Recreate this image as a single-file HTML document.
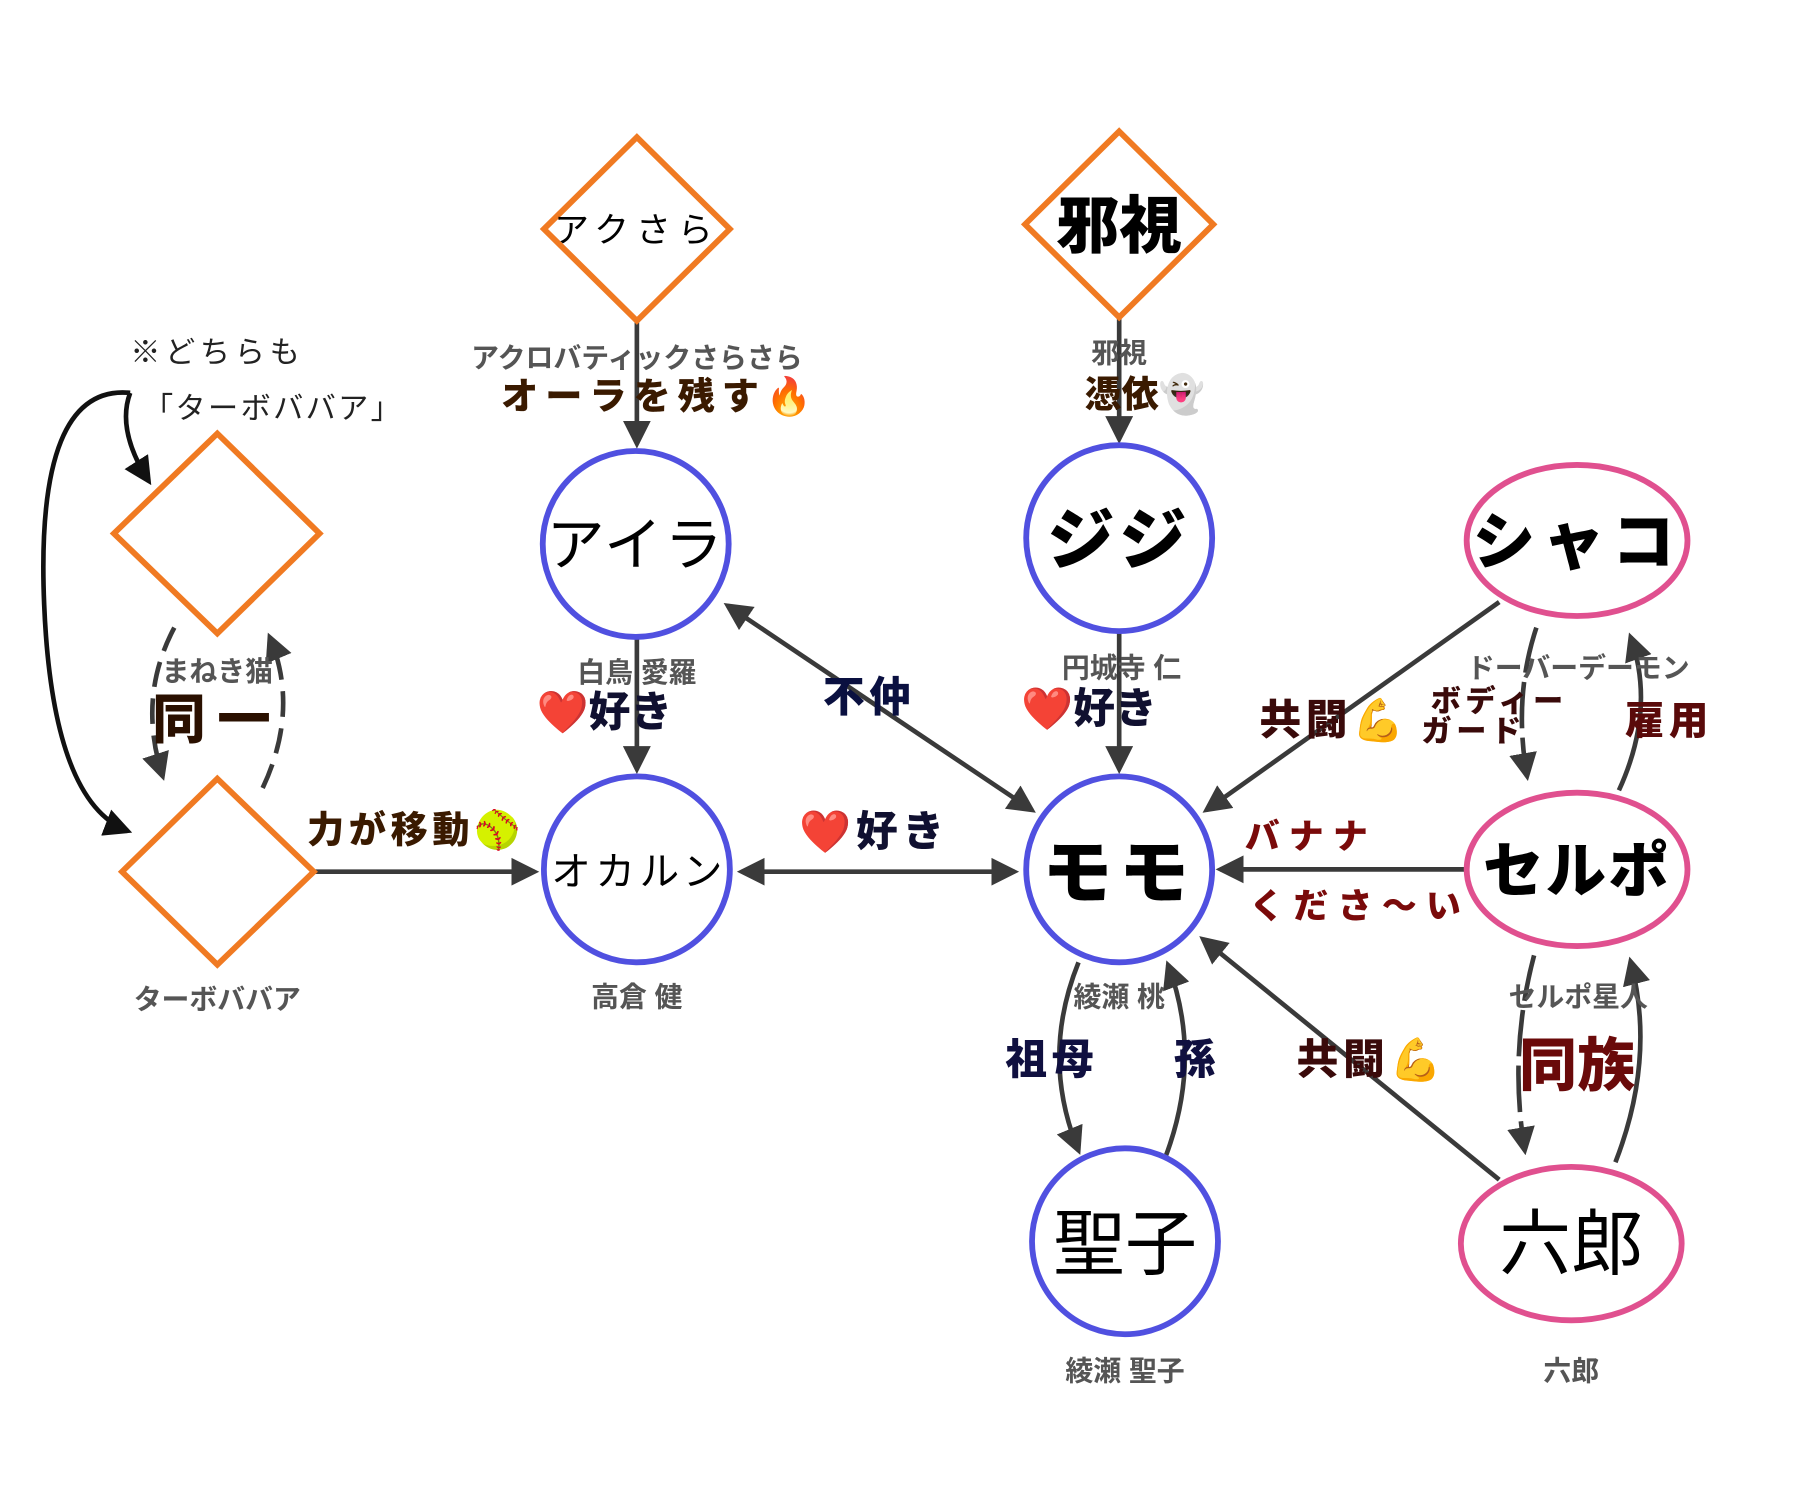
<!DOCTYPE html>
<html><head><meta charset="utf-8"><style>
html,body{margin:0;padding:0;background:#fff;}
svg{display:block;}
text{font-family:"Liberation Sans","Noto Sans CJK JP",sans-serif;}
.g{fill:#555;font-size:24px;font-weight:bold;}
.b{font-weight:900;}
</style></head><body>
<svg width="1813" height="1497" viewBox="0 0 1560 1288" xmlns="http://www.w3.org/2000/svg">
<defs>
<marker id="a" markerWidth="6" markerHeight="6" refX="5" refY="3" orient="auto" markerUnits="strokeWidth"><path d="M0,0 L6,3 L0,6 z" fill="#3a3a3a"/></marker>
<marker id="as" markerWidth="6" markerHeight="6" refX="5" refY="3" orient="auto-start-reverse" markerUnits="strokeWidth"><path d="M0,0 L6,3 L0,6 z" fill="#3a3a3a"/></marker>
<marker id="k" markerWidth="6" markerHeight="6" refX="5" refY="3" orient="auto" markerUnits="strokeWidth"><path d="M0,0 L6,3 L0,6 z" fill="#111"/></marker>
</defs>
<g stroke="#3a3a3a" stroke-width="4" fill="none">
<line x1="548" y1="276" x2="548" y2="382" marker-end="url(#a)"/>
<line x1="963" y1="273" x2="963" y2="378" marker-end="url(#a)"/>
<line x1="548" y1="550" x2="548" y2="662" marker-end="url(#a)"/>
<line x1="963" y1="545" x2="963" y2="662" marker-end="url(#a)"/>
<line x1="626" y1="521" x2="888" y2="697" marker-start="url(#as)" marker-end="url(#a)"/>
<line x1="638" y1="750" x2="873" y2="750" marker-start="url(#as)" marker-end="url(#a)"/>
<line x1="270" y1="750" x2="460" y2="750" marker-end="url(#a)"/>
<line x1="1290" y1="518" x2="1038" y2="697" marker-end="url(#a)"/>
<line x1="1260" y1="748" x2="1050" y2="748" marker-end="url(#a)"/>
<line x1="1290" y1="1015" x2="1035" y2="808" marker-end="url(#a)"/>
<path d="M928,828 Q895,910 928,990" marker-end="url(#a)"/>
<path d="M1003,995 Q1035,910 1005,830" marker-end="url(#a)"/>
<path d="M1322,540 Q1302,600 1314,668" stroke-dasharray="40 8" marker-end="url(#a)"/>
<path d="M1393,680 Q1425,610 1403,548" marker-end="url(#a)"/>
<path d="M1320,822 Q1298,905 1312,990" stroke-dasharray="40 8" marker-end="url(#a)"/>
<path d="M1390,1000 Q1425,910 1403,827" marker-end="url(#a)"/>
<path d="M150,540 Q118,600 140,668" stroke-dasharray="22 10" marker-end="url(#a)"/>
<path d="M226,678 Q258,610 232,548" stroke-dasharray="22 10" marker-end="url(#a)"/>
</g>
<g stroke="#111" stroke-width="4" fill="none">
<path d="M112,338 Q100,370 128,414" marker-end="url(#k)"/>
<path d="M112,338 Q30,330 38,520 Q45,690 110,715" marker-end="url(#k)"/>
</g>
<g fill="#fff" stroke="#f07a22" stroke-width="5">
<polygon points="548,118 628,197 548,276 468,197"/>
<polygon points="963,113 1044,193 963,273 882,193"/>
<polygon points="187,373 275,459 187,545 98,459"/>
<polygon points="187,670 270,750 187,830 105,750"/>
</g>
<g fill="#fff" stroke="#5050e0" stroke-width="5">
<circle cx="547" cy="468" r="80"/><circle cx="963" cy="463" r="80"/>
<circle cx="548" cy="748" r="80"/><circle cx="963" cy="748" r="80"/>
<circle cx="968" cy="1068" r="80"/>
</g>
<g fill="#fff" stroke="#e0508f" stroke-width="5">
<ellipse cx="1357" cy="465" rx="95" ry="65"/><ellipse cx="1357" cy="748" rx="95" ry="66"/><ellipse cx="1352" cy="1070" rx="95" ry="66"/>
</g>
<g text-anchor="middle" fill="#000">
<text x="548" y="208" font-size="30" letter-spacing="6">アクさら</text>
<text x="963" y="213" font-size="54" class="b">邪視</text>
<text x="547" y="486" font-size="50" letter-spacing="2">アイラ</text>
<text x="963" y="485" font-size="58" letter-spacing="4" class="b">ジジ</text>
<text x="550" y="762" font-size="34" letter-spacing="4">オカルン</text>
<text x="963" y="772" font-size="60" letter-spacing="6" class="b">モモ</text>
<text x="968" y="1092" font-size="62">聖子</text>
<text x="1357" y="485" font-size="54" letter-spacing="6" class="b">シャコ</text>
<text x="1357" y="767" font-size="52" letter-spacing="2" class="b">セルポ</text>
<text x="1352" y="1092" font-size="62">六郎</text>
</g>
<g text-anchor="middle">
<text class="g" x="548" y="316">アクロバティックさらさら</text>
<text x="568" y="352" font-size="32" class="b" fill="#3a1a00" letter-spacing="6">オーラを残す🔥</text>
<text class="g" x="963" y="312">邪視</text>
<text x="985" y="350" font-size="32" class="b" fill="#3a1a00">憑依👻</text>
<text class="g" x="548" y="587">白鳥 愛羅</text>
<text x="520" y="625" font-size="36" class="b" fill="#101030">❤️好き</text>
<text class="g" x="965" y="583">円城寺 仁</text>
<text x="937" y="622" font-size="36" class="b" fill="#101030">❤️好き</text>
<text x="748" y="612" font-size="36" class="b" fill="#0a1040" letter-spacing="4">不仲</text>
<text x="752" y="728" font-size="36" class="b" fill="#101030" letter-spacing="4">❤️好き</text>
<text x="358" y="725" font-size="32" class="b" fill="#3a1a00" letter-spacing="4">力が移動🥎</text>
<text class="g" x="187" y="586">まねき猫</text>
<text x="187" y="635" font-size="46" class="b" fill="#2a1000" letter-spacing="10">同一</text>
<text x="187" y="312" font-size="26" fill="#222" letter-spacing="4">※どちらも</text>
<text x="235" y="360" font-size="26" fill="#222" letter-spacing="2">「ターボババア」</text>
<text class="g" x="187" y="868">ターボババア</text>
<text class="g" x="548" y="866">高倉 健</text>
<text class="g" x="968" y="1188">綾瀬 聖子</text>
<text class="g" x="1352" y="1188">六郎</text>
<text class="g" x="963" y="866">綾瀬 桃</text>
<text x="905" y="924" font-size="36" class="b" fill="#101040" letter-spacing="4">祖母</text>
<text x="1028" y="924" font-size="36" class="b" fill="#101040">孫</text>
<text x="1180" y="924" font-size="36" class="b" fill="#3a0a0a" letter-spacing="4">共闘💪</text>
<text class="g" x="1358" y="866">セルポ星人</text>
<text x="1357" y="934" font-size="50" class="b" fill="#6a0a0a">同族</text>
<text x="1148" y="632" font-size="36" class="b" fill="#3a0a0a" letter-spacing="4">共闘💪</text>
<text class="g" x="1358" y="583">ドーバーデーモン</text>
<text x="1290" y="612" font-size="26" class="b" fill="#3a0a0a" letter-spacing="4">ボディー</text>
<text x="1268" y="638" font-size="26" class="b" fill="#3a0a0a" letter-spacing="4">ガード</text>
<text x="1436" y="632" font-size="34" class="b" fill="#5a0a0a" letter-spacing="4">雇用</text>
<text x="1128" y="730" font-size="30" class="b" fill="#7a0a0a" letter-spacing="8">バナナ</text>
<text x="1170" y="790" font-size="30" class="b" fill="#7a0a0a" letter-spacing="8">くださ〜い</text>
</g>
</svg>
</body></html>
